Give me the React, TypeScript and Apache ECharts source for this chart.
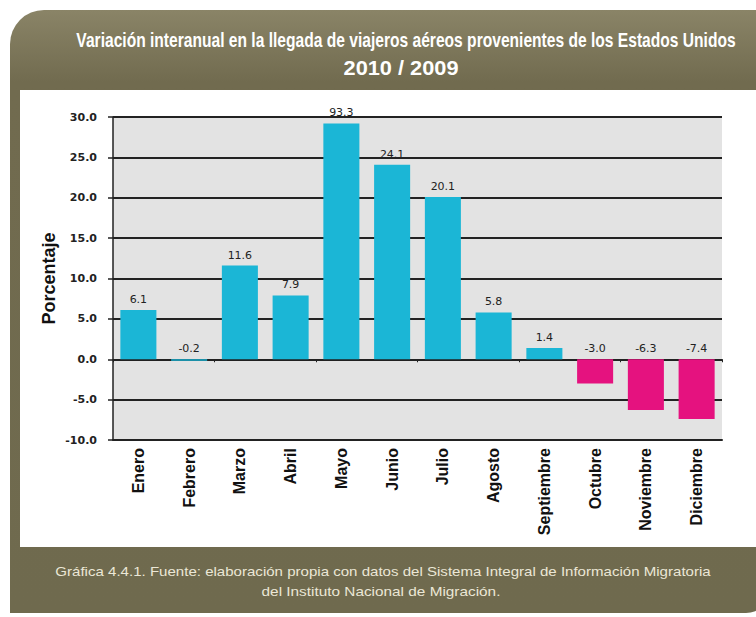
import React, { useEffect, useRef } from "react";
import * as echarts from "echarts";

const months = ["Enero", "Febrero", "Marzo", "Abril", "Mayo", "Junio", "Julio", "Agosto", "Septiembre", "Octubre", "Noviembre", "Diciembre"];
const variation = [6.1, -0.2, 11.6, 7.9, 93.3, 24.1, 20.1, 5.8, 1.4, -3.0, -6.3, -7.4];
const yMin = -10;
const yMax = 30;
const yStep = 5;
// bars beyond the axis maximum are drawn as truncated just below it
const truncatedAt = 29.2;
// declines larger than this are highlighted in magenta
const declineThreshold = -1;

const titleLine1 = "Variación interanual en la llegada de viajeros aéreos provenientes de los Estados Unidos";
const titleLine2 = "2010 / 2009";
const footLine1 = "Gráfica 4.4.1. Fuente: elaboración propia con datos del Sistema Integral de Información Migratoria";
const footLine2 = "del Instituto Nacional de Migración.";

const POS = "#1bb6d6";
const NEG = "#e5127f";
const SANS = "'Liberation Sans', Arial, sans-serif";

function fitScale(text: string, font: string, target: number): number {
  const c = document.createElement("canvas");
  const ctx = c.getContext("2d");
  if (!ctx) return 1;
  ctx.font = font;
  const w = ctx.measureText(text).width;
  return w > 0 ? target / w : 1;
}

function squeezedText(text: string, font: string, cx: number, cy: number, width: number, fill: string) {
  return {
    type: "text",
    z: 10,
    x: cx,
    y: cy,
    scaleX: fitScale(text, font, width),
    style: {
      text,
      x: 0,
      y: 0,
      textAlign: "center",
      textVerticalAlign: "middle",
      fill,
      font,
    },
  };
}

export default function App() {
  const ref = useRef<HTMLDivElement>(null);
  useEffect(() => {
    if (!ref.current) return;
    const chart = echarts.init(ref.current, undefined, { renderer: "svg" });
    const data = variation.map((v) => ({
      value: v > yMax ? truncatedAt : v,
      itemStyle: { color: v < declineThreshold ? NEG : POS },
      label: { formatter: v.toFixed(1) },
    }));
    const tFont1 = "bold 20px " + SANS;
    const tFont2 = "bold 21px " + SANS;
    const fFont = "13px " + SANS;
    chart.setOption({
      animation: false,
      backgroundColor: "#ffffff",
      graphic: [
        {
          type: "rect",
          z: -10,
          shape: { x: 10, y: 10, width: 760, height: 603, r: [34, 0, 24, 0] },
          style: {
            fill: new echarts.graphic.LinearGradient(0, 0, 0, 1, [
              { offset: 0, color: "#8a8467" },
              { offset: 0.12, color: "#716b4f" },
              { offset: 1, color: "#6f6a4e" },
            ]),
          },
        },
        {
          type: "rect",
          z: -9,
          shape: { x: 20, y: 90, width: 740, height: 457 },
          style: { fill: "#ffffff" },
        },
        squeezedText(titleLine1, tFont1, 406, 40, 660, "#ffffff"),
        squeezedText(titleLine2, tFont2, 401, 68, 115, "#ffffff"),
        squeezedText(footLine1, fFont, 383, 571, 656, "#ebe7d6"),
        squeezedText(footLine2, fFont, 381, 591, 239, "#ebe7d6"),
      ],
      grid: {
        left: 113,
        right: 34,
        top: 117,
        bottom: 177,
        show: true,
        backgroundColor: "#e3e3e3",
        borderWidth: 0,
      },
      xAxis: [
        {
          type: "category",
          data: months,
          position: "bottom",
          axisLine: { onZero: false, show: true, lineStyle: { color: "#222", width: 2 } },
          axisTick: { show: false },
          axisLabel: {
            rotate: 90,
            margin: 8,
            color: "#111",
            fontWeight: "bold",
            fontSize: 16,
            fontFamily: SANS,
          },
        },
        {
          type: "category",
          data: months,
          position: "bottom",
          axisLine: { onZero: true, show: true, lineStyle: { color: "#222", width: 1.5 } },
          axisTick: { show: true, length: 3, lineStyle: { color: "#222" } },
          axisLabel: { show: false },
        },
      ],
      yAxis: {
        type: "value",
        min: yMin,
        max: yMax,
        interval: yStep,
        name: "Porcentaje",
        nameLocation: "middle",
        nameGap: 55,
        nameMoveOverlap: false,
        nameTextStyle: {
          color: "#111",
          fontWeight: "bold",
          fontSize: 18,
          fontFamily: SANS,
        },
        axisLine: { show: true, lineStyle: { color: "#222", width: 1.5 } },
        axisTick: { show: true, length: 5, lineStyle: { color: "#222", width: 1.5 } },
        splitLine: { show: true, lineStyle: { color: "#222", width: 1.8 } },
        axisLabel: {
          formatter: (v: number) => v.toFixed(1),
          margin: 16,
          color: "#222",
          fontSize: 11,
          fontWeight: "bold",
          fontFamily: "'DejaVu Sans', sans-serif",
        },
      },
      series: [
        {
          type: "bar",
          xAxisIndex: 0,
          data,
          barWidth: "71%",
          label: {
            show: true,
            position: "top",
            distance: 5,
            color: "#222",
            fontSize: 11,
            fontFamily: "'DejaVu Sans', sans-serif",
          },
        },
      ],
    });
    return () => chart.dispose();
  }, []);
  return (
    <div
      ref={ref}
      style={{ position: "fixed", left: 0, top: 0, width: 756, height: 617 }}
    />
  );
}
